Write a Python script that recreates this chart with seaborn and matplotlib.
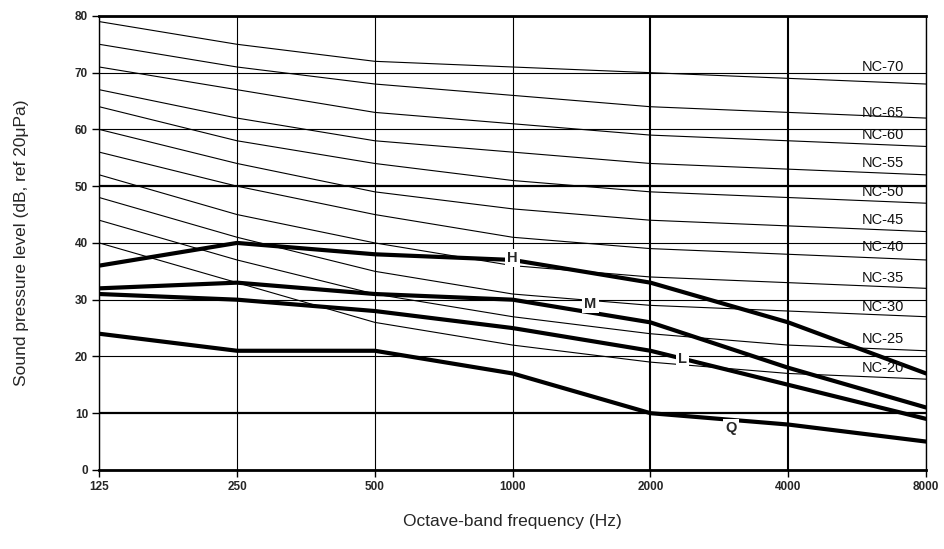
import pandas as pd
import matplotlib
matplotlib.use("Agg")
import matplotlib.pyplot as plt
import seaborn as sns

freqs = [125, 250, 500, 1000, 2000, 4000, 8000]
freq_labels = ["125", "250", "500", "1000", "2000", "4000", "8000"]

# NC curves (dB) at 125 ... 8000 Hz
nc_names = ["NC-20", "NC-25", "NC-30", "NC-35", "NC-40", "NC-45",
            "NC-50", "NC-55", "NC-60", "NC-65", "NC-70"]
nc_20 = [40, 33, 26, 22, 19, 17, 16]
nc_25 = [44, 37, 31, 27, 24, 22, 21]
nc_30 = [48, 41, 35, 31, 29, 28, 27]
nc_35 = [52, 45, 40, 36, 34, 33, 32]
nc_40 = [56, 50, 45, 41, 39, 38, 37]
nc_45 = [60, 54, 49, 46, 44, 43, 42]
nc_50 = [64, 58, 54, 51, 49, 48, 47]
nc_55 = [67, 62, 58, 56, 54, 53, 52]
nc_60 = [71, 67, 63, 61, 59, 58, 57]
nc_65 = [75, 71, 68, 66, 64, 63, 62]
nc_70 = [79, 75, 72, 71, 70, 69, 68]
nc_values = [nc_20, nc_25, nc_30, nc_35, nc_40, nc_45,
             nc_50, nc_55, nc_60, nc_65, nc_70]
# where the NC labels sit on the right (dB)
nc_label_y = [18, 23, 28.7, 33.8, 39.3, 44, 49, 54, 59, 62.9, 71]

# measured spectra
spec_names = ["H", "M", "L", "Q"]
spec_h = [36, 40, 38, 37, 33, 26, 17]
spec_m = [32, 33, 31, 30, 26, 18, 11]
spec_l = [31, 30, 28, 25, 21, 15, 9]
spec_q = [24, 21, 21, 17, 10, 8, 5]
spec_values = [spec_h, spec_m, spec_l, spec_q]
spec_label_x = [1000, 1480, 2350, 3000]
spec_label_y = [37.3, 29.2, 19.6, 7.4]

sns.set_style("white")
plt.rcParams["font.family"] = ["Liberation Sans", "DejaVu Sans"]

fig, ax = plt.subplots(figsize=(9.45, 5.49), dpi=100)
fig.subplots_adjust(left=0.105, right=0.98, bottom=0.144, top=0.971)

nc_df = pd.concat([pd.DataFrame({"freq": freqs, "level": v, "curve": n})
                   for n, v in zip(nc_names, nc_values)])
sns.lineplot(data=nc_df, x="freq", y="level", units="curve", estimator=None,
             color="black", linewidth=0.8, ax=ax, zorder=3)

spec_df = pd.concat([pd.DataFrame({"freq": freqs, "level": v, "curve": n})
                     for n, v in zip(spec_names, spec_values)])
sns.lineplot(data=spec_df, x="freq", y="level", units="curve", estimator=None,
             color="black", linewidth=3.0, ax=ax, zorder=4)

for name, y in zip(nc_names, nc_label_y):
    ax.text(6450, y, name, ha="center", va="center", fontsize=10.5,
            color="#111111", zorder=6)

for name, x, y in zip(spec_names, spec_label_x, spec_label_y):
    ax.text(x, y, name, ha="center", va="center", fontsize=10.5,
            fontweight="bold", zorder=7,
            bbox=dict(boxstyle="square,pad=0.15", fc="white", ec="none"))

ax.set_xscale("log", base=2)
ax.set_xlim(125, 8000)
ax.set_ylim(0, 80)
ax.set_xticks(freqs)
ax.set_xticklabels(freq_labels)
ax.minorticks_off()
ax.set_yticks(range(0, 81, 10))
ax.tick_params(axis="both", labelsize=8.5, length=5, width=1,
               color="black", direction="out", left=True, bottom=True, pad=3)
for lbl in ax.get_xticklabels() + ax.get_yticklabels():
    lbl.set_fontweight("bold")

ax.grid(True, color="black", linewidth=0.8)
ax.set_axisbelow(False)
for i, gl in enumerate(ax.get_ygridlines()):
    if i in (1, 5):
        gl.set_linewidth(1.6)
for i, gl in enumerate(ax.get_xgridlines()):
    if i in (4, 5):
        gl.set_linewidth(1.5)

for side in ["left", "right"]:
    ax.spines[side].set_linewidth(1.0)
    ax.spines[side].set_color("black")
for side in ["top", "bottom"]:
    ax.spines[side].set_linewidth(2.0)
    ax.spines[side].set_color("black")

ax.set_xlabel("Octave-band frequency (Hz)", fontsize=12.5, labelpad=15)
ax.set_ylabel("Sound pressure level (dB, ref 20\u03bcPa)", fontsize=12.5,
              labelpad=33)

fig.savefig("out.png", dpi=100)
